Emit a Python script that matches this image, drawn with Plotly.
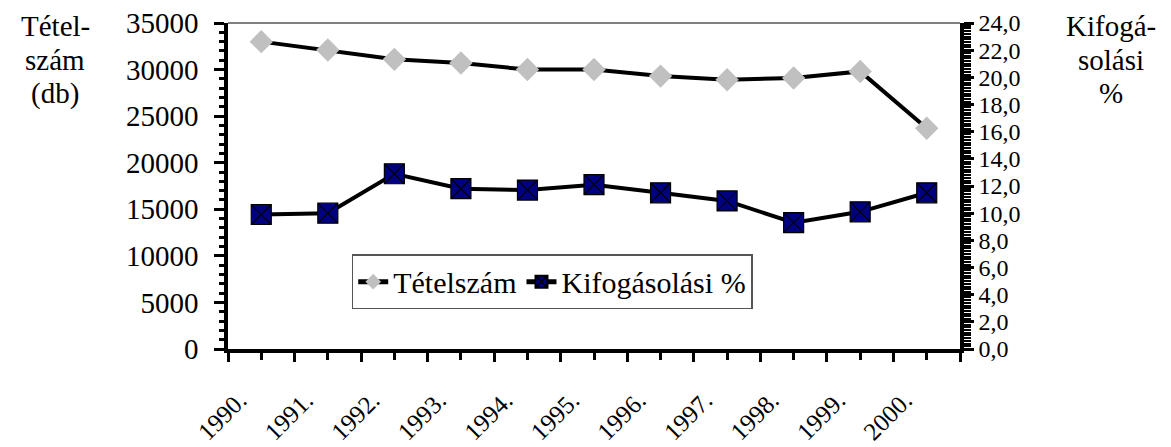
import plotly.graph_objects as go

years = ["1990.", "1991.", "1992.", "1993.", "1994.", "1995.", "1996.", "1997.", "1998.", "1999.", "2000."]
tetelszam = [33000, 32100, 31100, 30700, 30000, 30000, 29300, 28900, 29100, 29800, 23700]
kifogasolasi = [9.9, 10.0, 12.9, 11.8, 11.7, 12.1, 11.5, 10.9, 9.3, 10.1, 11.5]

left_ticks = list(range(0, 35001, 5000))
right_ticks = [i * 2.0 for i in range(13)]
left_title = ["Tétel-", "szám", "(db)"]
right_title = ["Kifogá-", "solási", "%"]

FONT = "'Liberation Serif', 'Times New Roman', serif"
idx = list(range(len(years)))
bounds = [i - 0.5 for i in range(len(years) + 1)]
xr = [-0.5, len(years) - 0.5]

fig = go.Figure()
fig.add_trace(go.Scatter(
    x=idx, y=tetelszam, name="Tételszám", mode="lines+markers",
    line=dict(color="black", width=4),
    marker=dict(symbol="diamond", size=18, color="#C0C0C0"),
    xaxis="x", yaxis="y",
))
fig.add_trace(go.Scatter(
    x=idx, y=kifogasolasi, name="Kifogásolási %", mode="lines+markers",
    line=dict(color="black", width=4),
    marker=dict(symbol="square-x", size=20, color="#000080",
                line=dict(color="black", width=1.2)),
    xaxis="x", yaxis="y2",
))

xtickfont = dict(family=FONT, size=25, color="black")
ltickfont = dict(family=FONT, size=29, color="black")
rtickfont = dict(family=FONT, size=24, color="black")

title_lines_y = [0.992, 0.888, 0.784]
annotations = []
for txt, yy in zip(left_title, title_lines_y):
    annotations.append(dict(text=txt, xref="paper", yref="paper", x=-0.236, y=yy,
                            xanchor="center", yanchor="middle", showarrow=False,
                            font=dict(family=FONT, size=29, color="black")))
for txt, yy in zip(right_title, title_lines_y):
    annotations.append(dict(text=txt, xref="paper", yref="paper", x=1.206, y=yy,
                            xanchor="center", yanchor="middle", showarrow=False,
                            font=dict(family=FONT, size=29, color="black")))

fig.update_layout(
    width=1171, height=447, autosize=False,
    margin=dict(l=228, r=211, t=23, b=98),
    paper_bgcolor="white", plot_bgcolor="white",
    separators=", ",
    font=dict(family=FONT, color="black"),
    showlegend=True,
    legend=dict(
        orientation="h", x=0.169, y=0.291, xanchor="left", yanchor="top",
        bgcolor="white", bordercolor="#555555", borderwidth=1.5,
        font=dict(family=FONT, size=30, color="black"),
        itemsizing="constant", tracegroupgap=0,
    ),
    xaxis=dict(
        range=xr, tickmode="array", tickvals=idx, ticktext=years, automargin=False,
        tickangle=-45, tickfont=xtickfont, ticklabelshift=-22, ticklabelstandoff=16,
        ticks="outside", ticklen=7, tickwidth=2.5, tickcolor="black",
        minor=dict(tickmode="array", tickvals=bounds, ticks="outside",
                   ticklen=9, tickwidth=2.5, tickcolor="black"),
        showline=True, linecolor="black", linewidth=3.5,
        showgrid=False, zeroline=False,
    ),
    xaxis2=dict(
        range=xr, overlaying="x", anchor="y", side="bottom", automargin=False,
        tickmode="array", tickvals=bounds, ticks="inside", ticklen=9,
        tickwidth=2.5, tickcolor="black", showticklabels=False,
        showline=False, showgrid=False, zeroline=False,
    ),
    yaxis=dict(
        range=[0, 35000], tickmode="array", tickvals=left_ticks, tickformat="d",
        automargin=False,
        tickfont=ltickfont, ticks="outside", ticklen=10, tickwidth=2.5,
        tickcolor="black", ticklabelstandoff=10,
        minor=dict(dtick=1000, ticks="outside", ticklen=5, tickwidth=2.5,
                   tickcolor="black"),
        showline=True, linecolor="black", linewidth=3.5,
        showgrid=False, zeroline=False,
    ),
    yaxis3=dict(
        range=[0, 35000], overlaying="y", anchor="x", side="left", automargin=False,
        tickmode="array", tickvals=left_ticks, ticks="inside", ticklen=10,
        tickwidth=2.5, tickcolor="black", showticklabels=False,
        minor=dict(dtick=1000, ticks="inside", ticklen=5, tickwidth=2.5,
                   tickcolor="black"),
        showline=False, showgrid=False, zeroline=False,
    ),
    yaxis2=dict(
        range=[0, 24], overlaying="y", anchor="x", side="right", automargin=False,
        tickmode="array", tickvals=right_ticks, tickformat=".1f",
        tickfont=rtickfont, ticks="outside", ticklen=10, tickwidth=2.5,
        tickcolor="black", ticklabelstandoff=0,
        minor=dict(dtick=0.2, ticks="outside", ticklen=7, tickwidth=1.5,
                   tickcolor="black"),
        showline=True, linecolor="black", linewidth=3.5,
        showgrid=False, zeroline=False,
    ),
    yaxis4=dict(
        range=[0, 24], overlaying="y", anchor="x", side="right", automargin=False,
        tickmode="array", tickvals=right_ticks, ticks="inside", ticklen=10,
        tickwidth=2.5, tickcolor="black", showticklabels=False,
        showline=False, showgrid=False, zeroline=False,
    ),
    shapes=[dict(type="line", xref="paper", yref="paper", x0=0, x1=1, y0=1, y1=1,
                 line=dict(color="#808080", width=2))],
    annotations=annotations,
)

fig.write_html(
    "out.html",
    config={"displayModeBar": False},
    post_script="document.body.style.margin='0';document.body.style.overflow='hidden';",
)
